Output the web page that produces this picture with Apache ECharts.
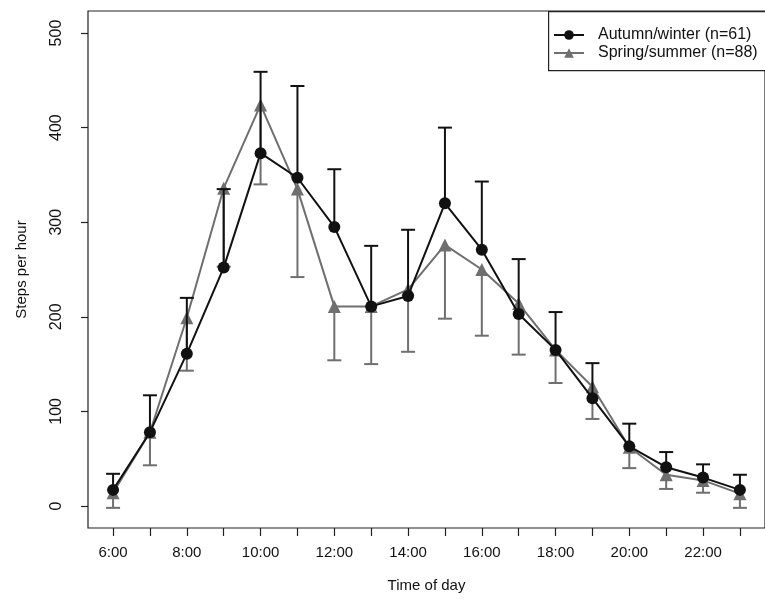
<!DOCTYPE html>
<html>
<head>
<meta charset="utf-8">
<script src="https://cdn.jsdelivr.net/npm/echarts@6/dist/echarts.min.js"></script>
<style>
  html, body { margin: 0; padding: 0; background: #fff; }
  #chart { width: 765px; height: 604px; }
</style>
</head>
<body>
<div id="chart"></div>
<script>
// hours of the day (x values)
const hours = [6, 7, 8, 9, 10, 11, 12, 13, 14, 15, 16, 17, 18, 19, 20, 21, 22, 23];

// Autumn/winter: mean and upper error bar end
const awMean  = [17, 78, 161, 252, 373, 347, 295, 211, 222, 320, 271, 203, 165, 114, 63, 41, 30, 17];
const awUpper = [34, 117, 220, 335, 459, 444, 356, 275, 292, 400, 343, 261, 205, 151, 87, 57, 44, 33];

// Spring/summer: mean and lower error bar end
const ssMean  = [14, 78, 199, 336, 424, 335, 211, 211, 229, 276, 250, 214, 165, 126, 62, 33, 27, 13];
const ssLower = [-2, 43, 143, 253, 340, 242, 154, 150, 163, 198, 180, 160, 130, 92, 40, 18, 14, -2];

const yTicks = [0, 100, 200, 300, 400, 500];
const xLabelHours = [6, 8, 10, 12, 14, 16, 18, 20, 22];

const BLACK = '#111111';
const GREY = '#6f6f6f';
const FONT = 'Liberation Sans';

const chart = echarts.init(document.getElementById('chart'));

// R style arrows(..., angle = 90): a stem from the mean plus a flat cap
function errorBar(color) {
  return function (params, api) {
    const x = api.value(0);
    const p0 = api.coord([x, api.value(1)]);
    const p1 = api.coord([x, api.value(2)]);
    const half = 7;
    const style = { stroke: color, lineWidth: 2 };
    return {
      type: 'group',
      children: [
        { type: 'line', shape: { x1: p0[0], y1: p0[1], x2: p1[0], y2: p1[1] }, style },
        { type: 'line', shape: { x1: p1[0] - half, y1: p1[1], x2: p1[0] + half, y2: p1[1] }, style }
      ]
    };
  };
}

const awLine = hours.map((h, i) => [h, awMean[i]]);
const ssLine = hours.map((h, i) => [h, ssMean[i]]);
const awBars = hours.map((h, i) => [h, awMean[i], awUpper[i]]);
const ssBars = hours.map((h, i) => [h, ssMean[i], ssLower[i]]);

chart.setOption({
  animation: false,
  backgroundColor: '#fff',
  textStyle: { fontFamily: FONT },
  grid: {
    left: 88, top: 11, width: 680, height: 517,
    show: true, borderColor: '#222', borderWidth: 1.2, backgroundColor: 'transparent'
  },
  legend: {
    left: 548, top: 22,
    orient: 'vertical',
    itemWidth: 30, itemHeight: 12, itemGap: 2,
    data: ['Autumn/winter (n=61)', 'Spring/summer (n=88)'],
    textStyle: { fontFamily: FONT, fontSize: 16, color: '#111', padding: [0, 0, 0, 9] }
  },
  graphic: [
    {
      type: 'rect', left: 548, top: 11, z: 0,
      shape: { width: 240, height: 59 },
      style: { fill: '#fff', stroke: '#222', lineWidth: 1.2 }
    }
  ],
  xAxis: {
    type: 'value',
    min: 5.32, max: 23.68,
    name: 'Time of day',
    nameLocation: 'middle',
    nameGap: 50,
    nameTextStyle: { fontFamily: FONT, fontSize: 15, color: '#111' },
    axisLine: { show: false, onZero: false },
    axisTick: { show: true, length: 8, customValues: hours, lineStyle: { color: '#222', width: 1.2 } },
    axisLabel: {
      customValues: xLabelHours, margin: 17,
      fontFamily: FONT, fontSize: 15, color: '#111',
      formatter: v => v + ':00'
    },
    splitLine: { show: false }
  },
  yAxis: {
    type: 'value',
    min: -23.3, max: 523.3,
    name: 'Steps per hour',
    nameLocation: 'middle',
    nameGap: 59,
    nameTextStyle: { fontFamily: FONT, fontSize: 15, color: '#111' },
    axisLine: { show: false, onZero: false },
    axisTick: { show: true, length: 7, customValues: yTicks, lineStyle: { color: '#222', width: 1.2 } },
    axisLabel: {
      customValues: yTicks, rotate: 90, margin: 23,
      fontFamily: FONT, fontSize: 16, color: '#111',
      align: 'center', verticalAlign: 'bottom'
    },
    splitLine: { show: false }
  },
  series: [
    {
      name: 'Spring/summer (n=88)',
      type: 'line',
      data: ssLine,
      symbol: 'triangle', symbolSize: 13,
      color: GREY,
      lineStyle: { color: GREY, width: 2 },
      itemStyle: { color: GREY },
      z: 3
    },
    {
      type: 'custom',
      renderItem: errorBar(GREY),
      data: ssBars,
      encode: { x: 0, y: [1, 2] },
      z: 3
    },
    {
      name: 'Autumn/winter (n=61)',
      type: 'line',
      data: awLine,
      symbol: 'circle', symbolSize: 12,
      color: BLACK,
      lineStyle: { color: BLACK, width: 2 },
      itemStyle: { color: BLACK },
      z: 4
    },
    {
      type: 'custom',
      renderItem: errorBar(BLACK),
      data: awBars,
      encode: { x: 0, y: [1, 2] },
      z: 4
    }
  ]
});
</script>
</body>
</html>
